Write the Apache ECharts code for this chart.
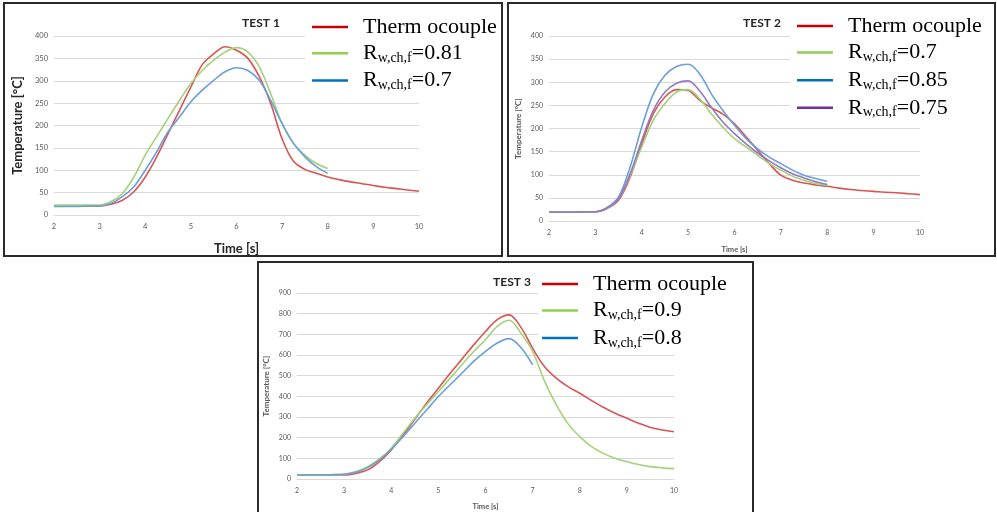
<!DOCTYPE html>
<html><head><meta charset="utf-8">
<script src="https://cdn.jsdelivr.net/npm/echarts@6/dist/echarts.min.js"></script>
<style>html,body{margin:0;padding:0;background:#fff;}#c{width:997px;height:512px;}</style>
</head><body><div id="c"></div>
<script>
// ---- data ----
const time = [2,2.25,2.5,2.75,3,3.25,3.5,3.75,4,4.25,4.5,4.75,5,5.25,5.5,5.75,6,6.25,6.5,6.75,7,7.25,7.5,7.75,8,8.25,8.5,8.75,9,9.25,9.5,9.75,10];
const xTicks = [2,3,4,5,6,7,8,9,10];
const titles = ['TEST 1','TEST 2','TEST 3'];
const legend1 = ['Thermocouple','0.81','0.7'];
const legend2 = ['Thermocouple','0.7','0.85','0.75'];
const legend3 = ['Thermocouple','0.9','0.8'];

const t1Thermo = [20,20,20,20,20,24,33,52,85,130,182,234,286,336,360,376,368,350,309,249,170,120,102,93,85,79,74,70,66,62,59,56,53];
const t1R081   = [22,22,22,22,22,30,48,85,134,175,216,256,294,323,346,364,374,364,331,271,204,160,134,115,104];
const t1R07    = [19,19,19,20,20,26,41,63,100,141,186,219,253,279,301,320,329,323,301,256,204,160,130,108,93];

const t2Thermo = [19,19,19,20,20,27,45,95,167,232,268,284,282,261,245,231,210,182,153,124,99,88,82,78,75,71,68,66,64,62,61,59,57];
const t2R07    = [19,19,19,20,20,27,48,99,160,218,254,279,284,264,232,203,178,160,142,124,110,97,88,81,77];
const t2R085   = [19,19,19,20,20,29,52,117,203,275,315,334,339,318,275,239,207,178,156,138,124,110,99,92,86];
const t2R075   = [19,19,19,20,20,28,48,102,174,239,279,298,303,281,246,214,189,167,147,130,115,102,93,85,79];

const t3Thermo = [19,19,19,19,19,27,44,84,141,213,289,367,439,512,580,649,714,771,794,735,633,544,488,447,415,380,347,318,294,270,249,237,229];
const t3R09    = [19,19,20,21,23,36,60,97,149,221,294,359,423,488,553,617,674,738,768,706,617,475,360,268,205,157,124,100,84,70,60,54,50];
const t3R08    = [19,19,20,21,23,32,55,92,144,205,270,334,399,456,512,569,617,658,679,636,552];

// ---- styles ----
const plotCol = {red:'#d95454', green:'#a3d27a', blue:'#6b9fd9', purple:'#9479c0'};
const legCol  = {red:'#cc0000', green:'#92d050', blue:'#0070c0', purple:'#7030a0'};
const sans = 'Lato';
const serif = 'Liberation Serif';

function pts(v){ return v.map((y,i)=>[time[i], y]); }

const grids = [
  {left:54, top:36, width:365, height:179},
  {left:549, top:36, width:371, height:185},
  {left:297, top:293, width:377, height:186}
];
const yMax = [400,400,900], yInt = [50,50,100];
const axFont = [7.5,7,7];
const yNameCfg = [
  {gap:30, size:13, weight:'bold', color:'#262626'},
  {gap:27, size:8, weight:'bold', color:'#595959'},
  {gap:27, size:8, weight:'bold', color:'#595959'}
];
const xNameCfg = [
  {gap:27, size:13, weight:'bold', color:'#262626'},
  {gap:25, size:7.5, weight:'bold', color:'#595959'},
  {gap:24, size:7.5, weight:'bold', color:'#595959'}
];

const xAxes = grids.map((g,i)=>({
  type:'value', gridIndex:i, min:2, max:10, interval:1,
  name:'Time [s]', nameLocation:'middle', nameGap:xNameCfg[i].gap,
  nameTextStyle:{fontFamily:sans, fontSize:xNameCfg[i].size, fontWeight:xNameCfg[i].weight, color:xNameCfg[i].color},
  axisLine:{show:true, lineStyle:{color:'#d9d9d9', width:1}},
  axisTick:{show:false}, splitLine:{show:false},
  axisLabel:{fontFamily:sans, fontSize:axFont[i], color:'#595959', margin:8}
}));
const yAxes = grids.map((g,i)=>({
  type:'value', gridIndex:i, min:0, max:yMax[i], interval:yInt[i],
  name:'Temperature [°C]', nameLocation:'middle', nameGap:yNameCfg[i].gap,
  nameTextStyle:{fontFamily:sans, fontSize:yNameCfg[i].size, fontWeight:yNameCfg[i].weight, color:yNameCfg[i].color},
  axisLine:{show:false}, axisTick:{show:false},
  splitLine:{show:true, lineStyle:{color:'#d9d9d9', width:1}},
  axisLabel:{fontFamily:sans, fontSize:axFont[i], color:'#595959', margin:6}
}));

function line(name, data, idx, col){
  return {name, type:'line', xAxisIndex:idx, yAxisIndex:idx, data:pts(data), smooth:0.35,
    symbol:'none', lineStyle:{color:col, width:1.6}, itemStyle:{color:col}, z:3};
}

const series = [
  line('A|Thermocouple', t1Thermo, 0, plotCol.red),
  line('A|0.81', t1R081, 0, plotCol.green),
  line('A|0.7', t1R07, 0, plotCol.blue),
  line('B|Thermocouple', t2Thermo, 1, plotCol.red),
  line('B|0.7', t2R07, 1, plotCol.green),
  line('B|0.85', t2R085, 1, plotCol.blue),
  line('B|0.75', t2R075, 1, plotCol.purple),
  line('C|Thermocouple', t3Thermo, 2, plotCol.red),
  line('C|0.9', t3R09, 2, plotCol.green),
  line('C|0.8', t3R08, 2, plotCol.blue)
];

const rich = {
  f:{fontFamily:serif, fontSize:22, color:'#000', lineHeight:24, padding:[0,0,0,10]},
  n:{fontFamily:serif, fontSize:22, color:'#000', lineHeight:24},
  s:{fontFamily:serif, fontSize:14, color:'#000', lineHeight:12, verticalAlign:'bottom'}
};
function fmt(name){
  const lab = name.split('|')[1];
  if (lab === 'Thermocouple') return '{f|Therm ocouple}';
  return '{f|R}{s|w,ch,f}{n|=' + lab + '}';
}
function mkLegend(prefix, labels, cols, left, top, gap, pad){
  return {
    orient:'vertical', left:left, top:top, itemWidth:36, itemHeight:2.5, icon:'rect',
    itemGap:gap, backgroundColor:'#fff', padding:pad,
    selectedMode:false, formatter:fmt, textStyle:{rich:rich},
    data: labels.map((l,i)=>({name:prefix+'|'+l, itemStyle:{color:cols[i]}}))
  };
}

const option = {
  backgroundColor:'#fff',
  animation:false,
  title: [
    {text:titles[0], left:256, top:12, textAlign:'center', textStyle:{fontFamily:sans, fontSize:12, fontWeight:'bold', color:'#262626'}},
    {text:titles[1], left:757, top:12, textAlign:'center', textStyle:{fontFamily:sans, fontSize:12, fontWeight:'bold', color:'#262626'}},
    {text:titles[2], left:507, top:271, textAlign:'center', textStyle:{fontFamily:sans, fontSize:12, fontWeight:'bold', color:'#262626'}}
  ],
  grid: grids,
  xAxis: xAxes,
  yAxis: yAxes,
  legend: [
    mkLegend('A', legend1, [legCol.red, legCol.green, legCol.blue], 305, 10, 4.2, [6,4,6,7]),
    mkLegend('B', legend2, [legCol.red, legCol.green, legCol.blue, legCol.purple], 790, 9, 4.6, [6,4,6,7]),
    mkLegend('C', legend3, [legCol.red, legCol.green, legCol.blue], 538, 266, 4.5, [7,4,0,4])
  ],
  series: series,
  graphic: [
    {type:'rect', z:100, shape:{x:4, y:3, width:498, height:253}, style:{fill:'none', stroke:'#2a2a2a', lineWidth:2}},
    {type:'rect', z:100, shape:{x:508, y:3, width:487, height:253}, style:{fill:'none', stroke:'#2a2a2a', lineWidth:2}},
    {type:'rect', z:100, shape:{x:258, y:262, width:495, height:260}, style:{fill:'none', stroke:'#2a2a2a', lineWidth:2}}
  ]
};
const chart = echarts.init(document.getElementById('c'));
chart.setOption(option);
</script></body></html>
